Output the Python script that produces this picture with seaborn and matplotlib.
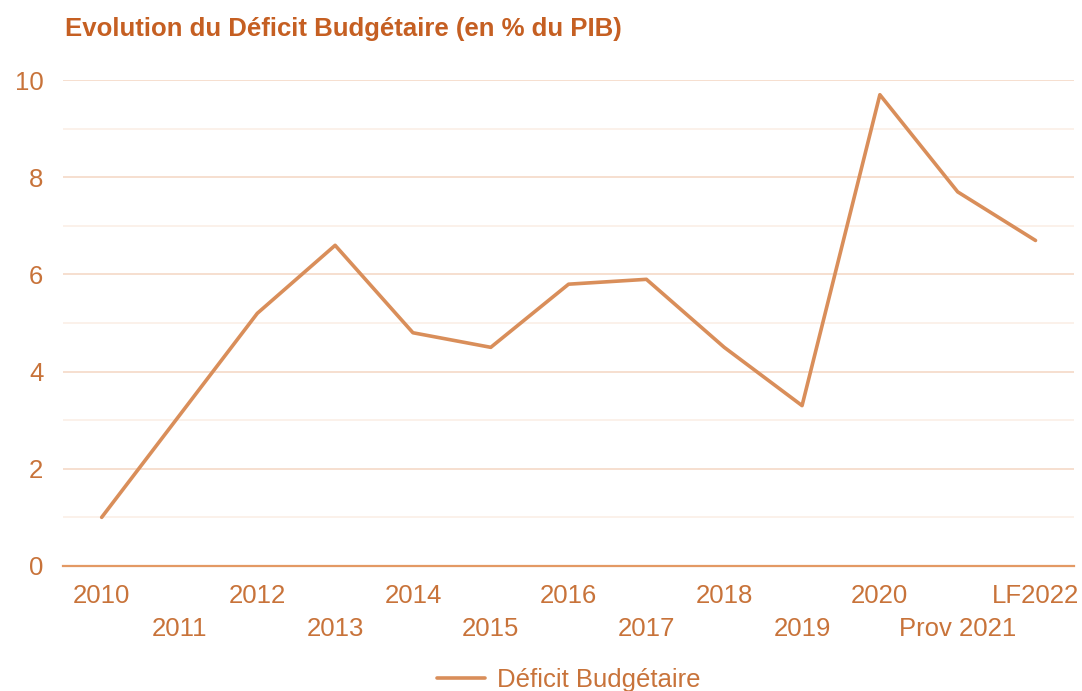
import matplotlib
matplotlib.use("Agg")
import matplotlib.pyplot as plt
import seaborn as sns
import pandas as pd
import numpy as np

years = ["2010", "2011", "2012", "2013", "2014", "2015", "2016", "2017",
         "2018", "2019", "2020", "Prov 2021", "LF2022"]
deficit = [1.0, 3.1, 5.2, 6.6, 4.8, 4.5, 5.8, 5.9, 4.5, 3.3, 9.7, 7.7, 6.7]

df = pd.DataFrame({"annee": years, "deficit": deficit})

sns.set_theme(style="white")
plt.rcParams['font.family'] = ['Liberation Sans', 'DejaVu Sans']

line_col = "#D98E5A"
text_col = "#C8733A"
title_col = "#C55F22"
fs = 18.5

fig, ax = plt.subplots(figsize=(10.82, 6.91), dpi=100)
fig.subplots_adjust(left=0.058, right=0.993, top=0.884, bottom=0.181)

x = np.arange(len(years))
sns.lineplot(x=x, y=df["deficit"], ax=ax, color=line_col, linewidth=2.6,
             label="Déficit Budgétaire")

ax.set_xlim(-0.5, len(years) - 0.5)
ax.set_ylim(0, 10)
ax.set_yticks(range(0, 11, 2))
ax.set_yticks(range(1, 11, 2), minor=True)
ax.grid(axis="y", which="major", color="#F6DCCB", linewidth=1.3)
ax.grid(axis="y", which="minor", color="#FBEDE4", linewidth=1.1)
ax.set_axisbelow(True)
for ln in ax.get_lines():
    ln.set_clip_on(False)

ax.set_xticks(x)
ax.set_xticklabels(years)
ax.tick_params(axis="both", which="both", length=0, labelsize=fs, labelcolor=text_col)
ax.tick_params(axis="y", pad=14)
# labels en quinconce sur deux lignes
for i, tk in enumerate(ax.xaxis.get_major_ticks()):
    tk.set_pad(13 if i % 2 == 0 else 37)

for s in ["top", "right", "left"]:
    ax.spines[s].set_visible(False)
ax.spines["bottom"].set_color("#E39964")
ax.spines["bottom"].set_linewidth(1.6)

ax.set_xlabel("")
ax.set_ylabel("")

leg = ax.legend(loc="upper center", bbox_to_anchor=(0.5, -0.162), frameon=False,
                fontsize=fs, handlelength=1.85, handletextpad=0.47)
for t in leg.get_texts():
    t.set_color(text_col)

fig.text(0.06, 0.958, "Evolution du Déficit Budgétaire (en % du PIB)",
         fontsize=fs, fontweight="bold", color=title_col, ha="left", va="center")

fig.savefig("out.png", dpi=100, facecolor="white")
